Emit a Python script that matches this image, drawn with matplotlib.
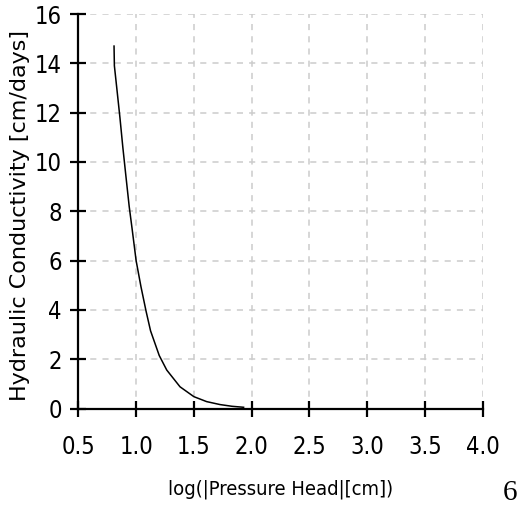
import matplotlib
matplotlib.use("Agg")
import matplotlib.pyplot as plt

# values
log_head = [0.809, 0.812, 0.835, 0.86, 0.885, 0.91, 0.94, 0.965, 1.0, 1.042,
            1.086, 1.125, 1.2, 1.265, 1.38, 1.5, 1.61, 1.726, 1.83, 1.93]
conductivity = [14.7, 13.9, 12.9, 11.8, 10.6, 9.5, 8.2, 7.3, 6.0, 4.94,
                3.95, 3.15, 2.15, 1.56, 0.88, 0.48, 0.28, 0.16, 0.09, 0.05]
x_ticks = [0.5, 1.0, 1.5, 2.0, 2.5, 3.0, 3.5, 4.0]
y_ticks = [0, 2, 4, 6, 8, 10, 12, 14, 16]

cond = dict(family="DejaVu Sans", stretch="condensed")

fig = plt.figure(figsize=(5.26, 5.20), dpi=100)
ax = fig.add_axes([0.1489, 0.2144, 0.918 - 0.1489, 0.973 - 0.2144])

ax.plot(log_head, conductivity, color="black", linewidth=1.1)

ax.set_xlim(0.5, 4.0)
ax.set_ylim(0, 16)
ax.set_xticks(x_ticks)
ax.set_yticks(y_ticks)
ax.set_xticklabels([f"{v:.1f}" for v in x_ticks], fontsize=17, **cond)
ax.set_yticklabels([str(v) for v in y_ticks], fontsize=17, **cond)

ax.grid(True, color="#cccccc", linestyle=(0, (4, 4)), linewidth=1.1)
ax.set_axisbelow(True)
for side in ("top", "right"):
    ax.spines[side].set_visible(False)
for side in ("left", "bottom"):
    ax.spines[side].set_linewidth(1.6)
ax.tick_params(direction="inout", length=12, width=1.6, pad=6)
ax.tick_params(axis="x", pad=13)

ax.set_xlabel("log(|Pressure Head|[cm])", fontsize=14.5, **cond)
ax.xaxis.set_label_coords(0.5, -0.205)
ax.xaxis.label.set_va("center")
ax.set_ylabel("Hydraulic Conductivity [cm/days]", family="DejaVu Sans",
              fontsize=16, va="center")
ax.yaxis.set_label_coords(-0.144, 0.49)

fig.text(0.97, 0.052, "6", family="Liberation Serif", fontsize=21,
         ha="center", va="center")

fig.savefig("out.png", dpi=100, facecolor="white")
